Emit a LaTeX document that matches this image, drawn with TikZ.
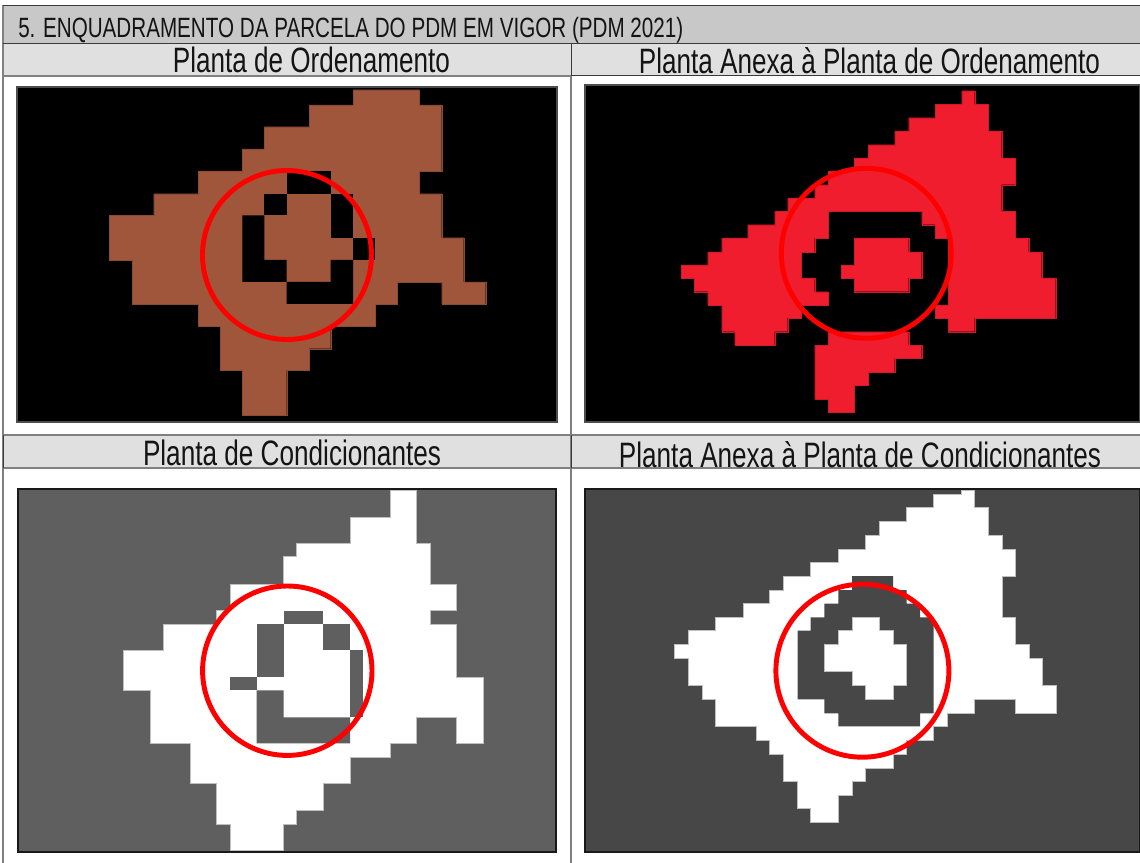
\documentclass[tikz,border=0pt]{standalone}
\usepackage{graphicx}
\usepackage{fontspec}
\newfontfamily\narrowf[FakeStretch=0.74]{Liberation Sans}
\definecolor{hdrdark}{HTML}{C8C8C8}
\definecolor{hdrlight}{HTML}{E0E0E0}
\definecolor{rule}{HTML}{3A3A3A}
\definecolor{softrule}{HTML}{808080}
\definecolor{brownfill}{HTML}{9F563A}
\definecolor{redfill}{HTML}{EF1D2D}
\definecolor{graya}{HTML}{5F5F5F}
\definecolor{grayb}{HTML}{474747}
\tikzset{
  tablerule/.style={draw=rule,line width=0.7pt},
  softline/.style={draw=softrule,line width=0.9pt},
  panelbox/.style={draw=#1,line width=0.9pt},
  parcel/.style={fill=#1,draw=#1!88!black,line width=0.2pt},
  whiteparcel/.style={fill=white,draw=black!25,line width=0.3pt},
  mark circle/.style={draw=red,line width=3.7pt},
  cap text/.style={anchor=base,inner sep=0pt,text=black!92},
}
\newcommand{\capt}[2]{\resizebox{#1}{!}{\narrowf\fontsize{25}{25}\selectfont #2}}
\begin{document}
\begin{tikzpicture}[x=0.75pt,y=-0.75pt]
\useasboundingbox (0,0) rectangle (1140,863);
\fill[white] (0,0) rectangle (1140,863);
% header bands
\fill[hdrdark] (3,5) rectangle (1140,43);
\fill[hdrlight] (3,43) rectangle (571,76);
\fill[hdrlight] (571,43) rectangle (1140,75);
\fill[hdrlight] (3,435) rectangle (1140,468);
% rules
\draw[softline] (3,5) -- (3,863);
\draw[softline] (571,75) -- (571,863);
\draw[softline] (3,76) -- (571,76);
\draw[softline] (3,435) -- (1140,435);
\draw[softline] (3,468) -- (1140,468);
\draw[tablerule] (3,5) -- (1140,5);
\draw[tablerule] (3,43) -- (1140,43);
\draw[tablerule] (571,75) -- (1140,75);
\draw[tablerule] (3,435) -- (3,468);
\draw[tablerule] (571,43) -- (571,75);
\draw[tablerule] (571,435) -- (571,468);
% texts
\node[cap text,anchor=base west] (title) at (18,38) {\capt{498.75pt}{5. ENQUADRAMENTO DA PARCELA DO PDM EM VIGOR (PDM 2021)}};
\node[cap text] (t1) at (311.5,72.5) {\capt{207.75pt}{Planta de Ordenamento}};
\node[cap text] (t2) at (869.5,73.5) {\capt{345.75pt}{Planta Anexa à Planta de Ordenamento}};
\node[cap text] (t3) at (292,465.5) {\capt{223.5pt}{Planta de Condicionantes}};
\node[cap text] (t4) at (860,467.5) {\capt{361.5pt}{Planta Anexa à Planta de Condicionantes}};
% panel 1
\filldraw[black,panelbox=black!70] (17,87) rectangle (557,422);
\begin{scope}[shift={(90,80)},x=0.25pt,y=-0.25pt]
\path[parcel=brownfill] (789,29)--(987,29)--(987,75)--(1055,75)--(1055,273)--(987,273)--(987,341)--(1055,341)--(1055,473)--(1121,473)--(1121,606)--(1187,606)--(1187,672)--(1055,672)--(1055,606)--(921,606)--(921,672)--(855,672)--(855,739)--(722,739)--(722,806)--(657,806)--(657,871)--(590,871)--(590,1005)--(457,1005)--(457,871)--(391,871)--(391,739)--(324,739)--(324,672)--(126,672)--(126,540)--(58,540)--(58,406)--(191,406)--(191,341)--(324,341)--(324,273)--(457,273)--(457,207)--(523,207)--(523,140)--(657,140)--(657,75)--(789,75)--cycle;
\fill[black] (590,273) rectangle (722,341);
\fill[black] (523,341) rectangle (590,406);
\fill[black] (722,341) rectangle (789,473);
\fill[black] (789,473) rectangle (855,540);
\fill[black] (457,406)--(523,406)--(523,540)--(590,540)--(590,606)--(457,606)--cycle;
\fill[black] (722,540)--(789,540)--(789,672)--(590,672)--(590,606)--(722,606)--cycle;
\end{scope}
\draw[mark circle] (287,255) circle[radius=84.5];
% panel 2
\filldraw[black,panelbox=black!70] (585,85) rectangle (1140,422);
\begin{scope}[shift={(670,80)},x=0.25pt,y=-0.25pt]
\path[parcel=redfill] (875,32)--(914,32)--(914,73)--(955,73)--(955,153)--(995,153)--(995,234)--(1036,234)--(1036,314)--(995,314)--(995,394)--(1036,394)--(1036,474)--(1076,474)--(1076,516)--(1115,516)--(1115,594)--(1157,594)--(1157,714)--(914,714)--(914,755)--(835,755)--(835,714)--(795,714)--(795,675)--(835,675)--(835,474)--(795,474)--(795,434)--(755,434)--(755,394)--(475,394)--(475,474)--(434,474)--(434,516)--(394,516)--(394,594)--(434,594)--(434,635)--(475,635)--(475,675)--(394,675)--(394,714)--(353,714)--(353,755)--(314,755)--(314,795)--(194,795)--(194,755)--(155,755)--(155,675)--(113,675)--(113,635)--(73,635)--(73,594)--(34,594)--(34,555)--(113,555)--(113,516)--(155,516)--(155,474)--(233,474)--(233,434)--(314,434)--(314,394)--(353,394)--(353,354)--(434,354)--(434,314)--(475,314)--(475,273)--(553,273)--(553,234)--(595,234)--(595,194)--(674,194)--(674,153)--(716,153)--(716,113)--(795,113)--(795,73)--(875,73)--cycle;
\path[parcel=redfill] (553,474)--(716,474)--(716,516)--(755,516)--(755,594)--(716,594)--(716,635)--(553,635)--(553,594)--(514,594)--(514,555)--(553,555)--cycle;
\path[parcel=redfill] (475,755)--(716,755)--(716,795)--(755,795)--(755,835)--(674,835)--(674,876)--(595,876)--(595,915)--(553,915)--(553,996)--(475,996)--(475,957)--(434,957)--(434,795)--(475,795)--cycle;
\end{scope}
\draw[mark circle] (866.3,253.3) circle[radius=85];
% panel 3
\filldraw[graya,panelbox=black!90] (18,489) rectangle (556,852);
\begin{scope}[shift={(110,485)},x=0.25pt,y=-0.25pt]
\path[whiteparcel] (840,17)--(918,17)--(918,176)--(960,176)--(960,297)--(1038,297)--(1038,377)--(960,377)--(960,417)--(1038,417)--(1038,577)--(1119,577)--(1119,775)--(1038,775)--(1038,697)--(918,697)--(918,775)--(840,775)--(840,817)--(720,817)--(720,895)--(639,895)--(639,977)--(560,977)--(560,1017)--(521,1017)--(521,1097)--(361,1097)--(361,1017)--(320,1017)--(320,895)--(241,895)--(241,775)--(121,775)--(121,616)--(40,616)--(40,495)--(160,495)--(160,417)--(320,417)--(320,377)--(361,377)--(361,297)--(521,297)--(521,215)--(560,215)--(560,176)--(720,176)--(720,97)--(840,97)--cycle;
\fill[graya] (521,377) rectangle (639,417);
\fill[graya] (639,417) rectangle (720,495);
\fill[graya] (720,495) rectangle (760,697);
\fill[graya] (440,417) rectangle (521,577);
\fill[graya] (361,577) rectangle (440,616);
\fill[graya] (440,616)--(521,616)--(521,697)--(720,697)--(720,775)--(440,775)--cycle;
\end{scope}
\draw[mark circle] (287.3,670.7) circle[radius=84.7];
% panel 4
\filldraw[grayb,panelbox=black!90] (585,489) rectangle (1140,852);
\begin{scope}[shift={(665,485)},x=0.25pt,y=-0.25pt]
\path[whiteparcel] (888,17)--(928,17)--(928,67)--(970,67)--(970,151)--(1011,151)--(1011,192)--(1052,192)--(1052,273)--(1011,273)--(1011,397)--(1052,397)--(1052,479)--(1092,479)--(1092,520)--(1133,520)--(1133,602)--(1175,602)--(1175,685)--(1052,685)--(1052,643)--(928,643)--(928,685)--(848,685)--(848,724)--(806,724)--(806,766)--(725,766)--(725,808)--(684,808)--(684,850)--(601,850)--(601,888)--(561,888)--(561,930)--(520,930)--(520,1012)--(437,1012)--(437,971)--(398,971)--(398,888)--(356,888)--(356,808)--(314,808)--(314,766)--(275,766)--(275,724)--(151,724)--(151,643)--(111,643)--(111,602)--(70,602)--(70,520)--(28,520)--(28,479)--(70,479)--(70,437)--(151,437)--(151,397)--(234,397)--(234,356)--(314,356)--(314,315)--(356,315)--(356,273)--(437,273)--(437,232)--(520,232)--(520,192)--(601,192)--(601,151)--(642,151)--(642,108)--(725,108)--(725,67)--(806,67)--(806,28)--(888,28)--cycle;
\fill[grayb] (561,273)--(684,273)--(684,315)--(725,315)--(725,356)--(765,356)--(765,397)--(806,397)--(806,685)--(765,685)--(765,724)--(520,724)--(520,685)--(478,685)--(478,643)--(398,643)--(398,437)--(437,437)--(437,397)--(478,397)--(478,356)--(520,356)--(520,315)--(561,315)--cycle;
\path[whiteparcel] (561,397)--(642,397)--(642,437)--(684,437)--(684,479)--(725,479)--(725,602)--(684,602)--(684,643)--(601,643)--(601,602)--(561,602)--(561,560)--(478,560)--(478,479)--(520,479)--(520,437)--(561,437)--cycle;
\end{scope}
\draw[mark circle] (862.4,670.7) circle[radius=86.5];
\end{tikzpicture}
\end{document}
